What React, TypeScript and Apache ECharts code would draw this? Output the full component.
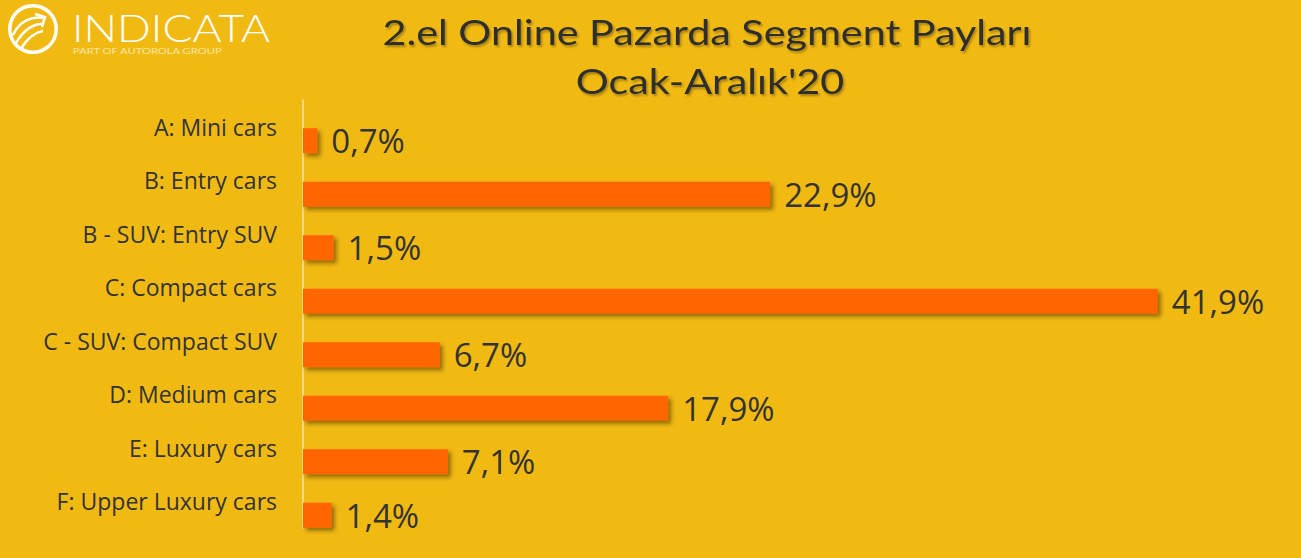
import React, { useEffect, useRef } from "react";
import * as echarts from "echarts";

const categories = [
  "A: Mini cars",
  "B: Entry cars",
  "B - SUV: Entry SUV",
  "C: Compact cars",
  "C - SUV: Compact SUV",
  "D: Medium cars",
  "E: Luxury cars",
  "F: Upper Luxury cars",
];
const shares = [0.7, 22.9, 1.5, 41.9, 6.7, 17.9, 7.1, 1.4];
const titleLines = ["2.el Online Pazarda Segment Payları", "Ocak-Aralık'20"];
const brandName = "INDICATA";
const brandTagline = "PART OF AUTOROLA GROUP";

const BG = "#F1BA13";
const BAR = "#FF6600";
const TEXT = "#333333";
const FONT = "'Open Sans', Lato, sans-serif";
const TITLE_FONT = "Lato, 'Open Sans', sans-serif";

export default function App() {
  const ref = useRef<HTMLDivElement>(null);
  useEffect(() => {
    if (!ref.current) return;
    const chart = echarts.init(ref.current, null, { renderer: "svg" });
    const white = "#FFFFFF";
    const titleStyle = {
      fontSize: 35,
      fontFamily: TITLE_FONT,
      fill: "#2E2E2E",
      align: "center",
      verticalAlign: "middle",
      textShadowColor: "rgba(0,0,0,0.32)",
      textShadowBlur: 2,
      textShadowOffsetX: 1.5,
      textShadowOffsetY: 2,
    };
    chart.setOption({
      animation: false,
      backgroundColor: BG,
      textStyle: { fontFamily: FONT },
      grid: { left: 303, right: 80, top: 100, bottom: 30, containLabel: false },
      xAxis: {
        type: "value",
        min: 0,
        max: 45,
        show: false,
        splitLine: { show: false },
      },
      yAxis: {
        type: "category",
        inverse: true,
        data: categories,
        axisLine: { show: true, lineStyle: { color: "#F6E3A6", width: 1.5 } },
        axisTick: { show: false },
        axisLabel: {
          fontSize: 23,
          color: TEXT,
          margin: 26,
          fontFamily: FONT,
        },
      },
      series: [
        {
          type: "bar",
          data: shares.map(() => null),
          barWidth: 25,
          barGap: "12%",
          silent: true,
        },
        {
          type: "bar",
          data: shares,
          barWidth: 25,
          barGap: "12%",
          itemStyle: {
            color: BAR,
            shadowColor: "rgba(60,40,0,0.55)",
            shadowBlur: 4,
            shadowOffsetX: 3,
            shadowOffsetY: 3,
          },
          label: {
            show: true,
            position: "right",
            distance: 14,
            fontSize: 33,
            color: TEXT,
            fontFamily: FONT,
            formatter: (p: any) => String(p.value).replace(".", ",") + "%",
          },
        },
      ],
      graphic: [
        {
          type: "text",
          x: 707,
          y: 31,
          scaleX: 1.18,
          style: { ...titleStyle, text: titleLines[0] },
        },
        {
          type: "text",
          x: 710,
          y: 80,
          scaleX: 1.18,
          style: { ...titleStyle, text: titleLines[1] },
        },
        {
          type: "group",
          x: 8,
          y: 4,
          children: [
            { type: "ring", shape: { cx: 25, cy: 25, r: 25, r0: 21.5 }, style: { fill: white } },
            {
              type: "bezierCurve",
              shape: { x1: 5, y1: 31, x2: 35, y2: 14, cpx1: 12, cpy1: 16, cpx2: 25, cpy2: 12 },
              style: { stroke: white, lineWidth: 2.5, fill: "none" },
            },
            {
              type: "bezierCurve",
              shape: { x1: 8, y1: 39, x2: 35, y2: 20, cpx1: 16, cpy1: 25, cpx2: 27, cpy2: 19 },
              style: { stroke: white, lineWidth: 2.5, fill: "none" },
            },
            {
              type: "bezierCurve",
              shape: { x1: 13, y1: 45, x2: 35, y2: 27, cpx1: 20, cpy1: 33, cpx2: 29, cpy2: 28 },
              style: { stroke: white, lineWidth: 2.5, fill: "none" },
            },
            {
              type: "polyline",
              shape: { points: [[27, 10], [37, 13], [34, 23]] },
              style: { stroke: white, lineWidth: 2.5, fill: "none" },
            },
          ],
        },
        {
          type: "text",
          x: 72,
          y: 28,
          scaleX: 1.2,
          style: {
            text: brandName,
            fontSize: 37,
            lineHeight: 28,
            fontWeight: 300,
            fontFamily: TITLE_FONT,
            fill: white,
            verticalAlign: "middle",
          },
        },
        {
          type: "text",
          x: 73,
          y: 51,
          scaleX: 1.4,
          style: {
            text: brandTagline,
            fontSize: 8,
            lineHeight: 8,
            fontFamily: TITLE_FONT,
            fill: "#FBE7A8",
            verticalAlign: "middle",
          },
        },
      ],
    });
    return () => chart.dispose();
  }, []);
  return (
    <div
      ref={ref}
      style={{ position: "fixed", left: 0, top: 0, width: 1301, height: 558 }}
    />
  );
}
